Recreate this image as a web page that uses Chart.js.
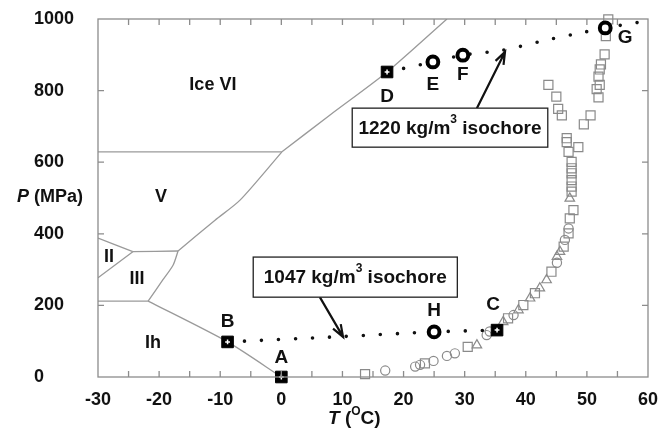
<!DOCTYPE html>
<html>
<head>
<meta charset="utf-8">
<script src="https://cdn.jsdelivr.net/npm/chart.js@4"></script>
<style>html,body{margin:0;padding:0;background:#fff}</style>
</head>
<body>
<canvas id="phase" width="660" height="437"></canvas>
<script>
// phase boundaries, [T (C), P (MPa)]
const ihLiquid = [[0, 0], [-8.8, 98], [-21.8, 212]];
const ihIII = [[-30, 212], [-21.8, 212]];
const iiiLiquid = [[-21.8, 212], [-19.4, 271], [-17.7, 313], [-16.9, 352]];
const iiiV = [[-24.3, 350], [-16.9, 352]];
const iiIII = [[-30, 277], [-24.3, 350]];
const iiV = [[-30, 388], [-24.3, 350]];
const vLiquid = [[-16.9, 352], [-10.85, 438], [-6.76, 494], [0.1, 629]];
const vVI = [[-30, 629], [0.1, 629]];
const viLiquid = [[0.1, 629], [7.97, 732], [17.3, 852], [27.1, 1000]];

// isochores
const iso1047 = [[-8.8, 98], [10, 113], [25, 126], [35.3, 131]];
const iso1220 = [[17.3, 852], [24.8, 880], [29.7, 899], [36.3, 913], [42.8, 939], [48.1, 958], [53, 975], [60, 995]];

// labelled states
const squareStates = [['A', 0, 0], ['B', -8.8, 98], ['C', 35.3, 131], ['D', 17.3, 852]];
const circleStates = [['E', 24.8, 880], ['F', 29.7, 899], ['G', 53, 975], ['H', 25, 126]];

// measured points (gray open markers)
const openSquares = [[53.5, 999], [53.1, 952], [52.9, 901], [52.3, 873], [52.1, 859], [51.9, 839], [52.1, 816], [51.6, 804],
  [51.9, 781], [43.7, 816], [45.0, 783], [45.3, 749], [45.9, 731], [50.6, 731], [49.5, 706], [46.7, 667], [46.7, 656],
  [48.6, 642], [47.0, 629], [47.5, 601], [47.5, 583], [47.5, 569], [47.5, 550], [47.5, 532], [47.5, 518], [47.8, 466],
  [47.2, 443], [47.0, 401], [46.2, 364], [44.2, 294], [41.5, 234], [39.6, 201], [37.1, 164], [30.5, 84], [23.5, 38], [13.7, 8]];
const openTriangles = [[47.2, 499], [45.1, 336], [45.6, 350], [43.4, 271], [42.3, 248], [40.7, 220], [38.8, 187], [32.0, 89], [36.3, 154]];
const openCircles = [[47.0, 415], [46.4, 383], [45.1, 319], [38.0, 173], [34.1, 127], [33.6, 117], [28.4, 66], [27.1, 59],
  [24.9, 45], [22.7, 34], [21.9, 29], [17.0, 18]];

// region names
const regions = [['Ice VI', -11.2, 816], ['V', -19.7, 503], ['II', -28.2, 335], ['III', -23.6, 274], ['Ih', -21.0, 95]];

const xTicks = [-30, -20, -10, 0, 10, 20, 30, 40, 50, 60];
const yTicks = [0, 200, 400, 600, 800, 1000];

const pts = arr => arr.map(([x, y]) => ({x, y}));
const named = arr => arr.map(([, x, y]) => ({x, y}));
const FONT = '"Liberation Sans", Arial, sans-serif';

const boundary = (data) => ({
  data: pts(data), showLine: true, pointRadius: 0, borderColor: '#9a9a9a', borderWidth: 1.3,
  tension: 0.25, fill: false, order: 10
});
const dotted = (data) => ({
  data: pts(data), showLine: true, pointRadius: 0, borderColor: '#111', borderWidth: 3.6,
  borderDash: [0, 17], borderCapStyle: 'round', tension: 0.3, fill: false, order: 5, clip: false
});
const open = (data, style, r) => ({
  data: pts(data), showLine: false, pointStyle: style, pointRadius: r, borderColor: '#8a8a8a',
  backgroundColor: 'rgba(0,0,0,0)', borderWidth: 1.2, order: 8, clip: false
});

const datasets = [
  boundary(ihLiquid), boundary(ihIII), boundary(iiiLiquid), boundary(iiiV), boundary(iiIII),
  boundary(iiV), boundary(vLiquid), boundary(vVI), boundary(viLiquid),
  open(openSquares, 'rect', 6.4), open(openTriangles, 'triangle', 5.5), open(openCircles, 'circle', 4.6),
  dotted(iso1047), dotted(iso1220),
  {data: named(squareStates), showLine: false, pointStyle: 'rect', pointRadius: 8.2, backgroundColor: '#000', borderColor: '#000', borderWidth: 1, order: 2, clip: false},
  {data: named(squareStates), showLine: false, pointStyle: 'cross', pointRadius: 2.4, borderColor: '#fff', borderWidth: 1.5, order: 1, clip: false},
  {data: named(circleStates), showLine: false, pointStyle: 'circle', pointRadius: 5.4, backgroundColor: '#fff', borderColor: '#000', borderWidth: 4, order: 2, clip: false}
];

// pixel offsets of the state letters from their markers
const letterOffset = {A: [0, -19], B: [0, -20], C: [-4, -25], D: [0, 25], E: [0, 23], F: [0, 20], G: [20, 10], H: [0, -21]};

function arrow(ctx, x0, y0, x1, y1) {
  const ang = Math.atan2(y1 - y0, x1 - x0);
  ctx.beginPath();
  ctx.moveTo(x0, y0);
  ctx.lineTo(x1, y1);
  ctx.moveTo(x1 - 13 * Math.cos(ang - 0.35), y1 - 13 * Math.sin(ang - 0.35));
  ctx.lineTo(x1, y1);
  ctx.lineTo(x1 - 13 * Math.cos(ang + 0.35), y1 - 13 * Math.sin(ang + 0.35));
  ctx.stroke();
}

function isochoreBox(ctx, x0, y0, x1, y1, num) {
  ctx.fillStyle = '#fff';
  ctx.fillRect(x0, y0, x1 - x0, y1 - y0);
  ctx.strokeStyle = '#222';
  ctx.lineWidth = 1.3;
  ctx.strokeRect(x0, y0, x1 - x0, y1 - y0);
  const a = num + ' kg/m', b = '3', c = ' isochore';
  ctx.font = 'bold 19px ' + FONT;
  const wa = ctx.measureText(a).width, wc = ctx.measureText(c).width;
  ctx.font = 'bold 12px ' + FONT;
  const wb = ctx.measureText(b).width;
  let x = (x0 + x1) / 2 - (wa + wb + wc) / 2;
  const y = (y0 + y1) / 2 + 1;
  ctx.fillStyle = '#111';
  ctx.textAlign = 'left';
  ctx.textBaseline = 'middle';
  ctx.font = 'bold 19px ' + FONT;
  ctx.fillText(a, x, y);
  x += wa;
  ctx.font = 'bold 12px ' + FONT;
  ctx.fillText(b, x, y - 9);
  x += wb;
  ctx.font = 'bold 19px ' + FONT;
  ctx.fillText(c, x, y);
}

const overlay = {
  id: 'overlay',
  afterDatasetsDraw(chart) {
    const {ctx, chartArea: a, scales: {x, y}} = chart;
    const px = t => x.getPixelForValue(t), py = p => y.getPixelForValue(p);
    ctx.save();

    // frame and inward ticks
    ctx.strokeStyle = '#8c8c8c';
    ctx.lineWidth = 1.3;
    ctx.strokeRect(a.left, a.top, a.right - a.left, a.bottom - a.top);
    ctx.beginPath();
    for (let t = -25; t < 60; t += 5) {
      ctx.moveTo(px(t), a.bottom); ctx.lineTo(px(t), a.bottom - 6);
      ctx.moveTo(px(t), a.top); ctx.lineTo(px(t), a.top + 6);
    }
    for (let p = 200; p < 1000; p += 200) {
      ctx.moveTo(a.left, py(p)); ctx.lineTo(a.left + 6, py(p));
      ctx.moveTo(a.right, py(p)); ctx.lineTo(a.right - 6, py(p));
    }
    ctx.stroke();

    ctx.fillStyle = '#111';
    ctx.textAlign = 'center';
    ctx.textBaseline = 'middle';
    ctx.font = 'bold 18px ' + FONT;
    regions.forEach(([txt, t, p]) => ctx.fillText(txt, px(t), py(p)));
    ctx.font = 'bold 19px ' + FONT;
    [...squareStates, ...circleStates].forEach(([k, t, p]) => {
      const [dx, dy] = letterOffset[k];
      ctx.fillText(k, px(t) + dx, py(p) + dy);
    });

    // callout boxes with arrows
    ctx.strokeStyle = '#111';
    ctx.lineWidth = 2.2;
    arrow(ctx, px(32.0), py(751), px(36.6), py(908));
    arrow(ctx, px(6.3), py(223), px(10.1), py(112));
    isochoreBox(ctx, px(11.6), py(751), px(43.6), py(642), '1220');
    isochoreBox(ctx, px(-4.6), py(335), px(28.8), py(223), '1047');

    // axis titles
    ctx.fillStyle = '#111';
    ctx.textAlign = 'left';
    ctx.textBaseline = 'middle';
    ctx.font = 'italic bold 18px ' + FONT;
    ctx.fillText('P', 17, 197);
    let w = ctx.measureText('P').width;
    ctx.font = 'bold 18px ' + FONT;
    ctx.fillText(' (MPa)', 17 + w, 197);

    let tx = 328;
    ctx.font = 'italic bold 19px ' + FONT;
    ctx.fillText('T', tx, 419);
    tx += ctx.measureText('T').width;
    ctx.font = 'bold 19px ' + FONT;
    ctx.fillText(' (', tx, 419);
    tx += ctx.measureText(' (').width;
    ctx.font = 'bold 12px ' + FONT;
    ctx.fillText('O', tx, 412);
    tx += ctx.measureText('O').width;
    ctx.font = 'bold 19px ' + FONT;
    ctx.fillText('C)', tx, 419);
    ctx.restore();
  }
};

new Chart(document.getElementById('phase'), {
  type: 'scatter',
  data: {datasets},
  options: {
    responsive: false,
    animation: false,
    devicePixelRatio: 1,
    layout: {padding: {left: 34, right: 12, top: 19, bottom: 0}},
    plugins: {legend: {display: false}, tooltip: {enabled: false}},
    scales: {
      x: {
        type: 'linear', min: -30, max: 60,
        afterBuildTicks: s => { s.ticks = xTicks.map(v => ({value: v})); },
        afterFit: s => { s.height = 60; s.paddingLeft = 0; s.paddingRight = 0; },
        grid: {display: false, drawTicks: false},
        border: {display: false},
        ticks: {padding: 12, color: '#111', callback: v => String(v), font: {family: FONT, weight: 'bold', size: 18}}
      },
      y: {
        type: 'linear', min: 0, max: 1000,
        afterBuildTicks: s => { s.ticks = yTicks.map(v => ({value: v})); },
        afterFit: s => { s.width = 64; s.paddingTop = 0; s.paddingBottom = 0; },
        grid: {display: false, drawTicks: false},
        border: {display: false},
        ticks: {crossAlign: 'far', color: '#111', callback: v => String(v), font: {family: FONT, weight: 'bold', size: 18}}
      }
    }
  },
  plugins: [overlay]
});
</script>
</body>
</html>
